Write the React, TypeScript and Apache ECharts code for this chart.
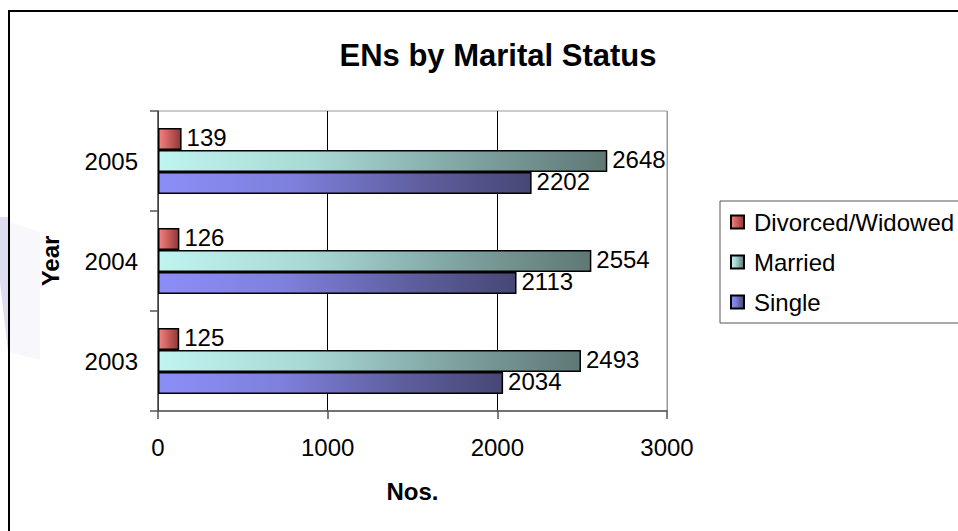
import React, { useEffect, useRef } from "react";
import * as echarts from "echarts";

const years = ["2003", "2004", "2005"];
const single = [2034, 2113, 2202];
const married = [2493, 2554, 2648];
const divorced = [125, 126, 139];
const legendOrder = ["Divorced/Widowed", "Married", "Single"];

const FONT = "'Liberation Sans', Arial, sans-serif";

function grad(stops: [number, string][]) {
  return new echarts.graphic.LinearGradient(
    0,
    0,
    1,
    0,
    stops.map(([offset, color]) => ({ offset, color }))
  );
}

export default function App() {
  const ref = useRef<HTMLDivElement>(null);
  useEffect(() => {
    if (!ref.current) return;
    const chart = echarts.init(ref.current, null, { renderer: "svg" });
    const label = {
      show: true,
      position: "right" as const,
      distance: 5,
      offset: [0, -2],
      color: "#000",
      fontSize: 24,
      fontFamily: FONT,
    };
    const mkSeries = (name: string, data: number[], color: any) => ({
      name,
      type: "bar",
      data,
      barGap: "0%",
      barCategoryGap: "34%",
      itemStyle: { color, borderColor: "#000", borderWidth: 1.5 },
      label,
    });
    chart.setOption({
      animation: false,
      backgroundColor: "#fff",
      textStyle: { fontFamily: FONT },
      title: {
        text: "ENs by Marital Status",
        left: 493,
        top: 35,
        textAlign: "center",
        textStyle: { fontSize: 31, fontWeight: "bold", color: "#000", fontFamily: FONT },
      },
      graphic: [
        {
          type: "polygon",
          silent: true,
          z: -10,
          shape: { points: [[0, 217], [8, 217], [8, 352], [0, 282]] },
          style: { fill: "#dedcf1" },
        },
        {
          type: "polygon",
          silent: true,
          z: -10,
          shape: { points: [[9, 222], [40, 232], [40, 360], [9, 352]] },
          style: { fill: "#f8f7fc" },
        },
        {
          type: "rect",
          silent: true,
          z: 100,
          shape: { x: 9, y: 11, width: 1200, height: 800 },
          style: { fill: "none", stroke: "#000", lineWidth: 2 },
        },
      ],
      legend: {
        orient: "vertical",
        left: 720,
        top: 201,
        data: legendOrder,
        icon: "rect",
        itemWidth: 13,
        itemHeight: 13,
        itemGap: 16,
        padding: [9, 60, 9, 10],
        borderColor: "#555",
        borderWidth: 1,
        textStyle: { fontSize: 24, color: "#000", fontFamily: FONT, padding: [0, 0, 0, 5] },
      },
      grid: {
        left: 158,
        top: 111,
        width: 509,
        height: 300,
        show: true,
        borderColor: "#999",
        borderWidth: 1,
        containLabel: false,
      },
      xAxis: {
        type: "value",
        min: 0,
        max: 3000,
        interval: 1000,
        name: "Nos.",
        nameLocation: "middle",
        nameGap: 68,
        nameTextStyle: { fontSize: 24, fontWeight: "bold", color: "#000", fontFamily: FONT },
        axisLine: { show: true, lineStyle: { color: "#555", width: 1.5 } },
        axisTick: { show: true, length: 8, lineStyle: { color: "#555", width: 1.5 } },
        axisLabel: {
          fontSize: 24,
          color: "#000",
          margin: 24,
          fontFamily: FONT,
          formatter: (v: number) => String(v),
        },
        splitLine: {
          show: true,
          lineStyle: { color: ["#000", "#000", "#000", "#999"], width: 1 },
        },
      },
      yAxis: {
        type: "category",
        data: years,
        name: "Year",
        nameLocation: "middle",
        nameGap: 96,
        nameRotate: 90,
        nameTextStyle: { fontSize: 24, fontWeight: "bold", color: "#000", fontFamily: FONT },
        axisLine: { show: true, lineStyle: { color: "#555", width: 1.5 } },
        axisTick: { show: true, length: 8, lineStyle: { color: "#555", width: 1.5 } },
        axisLabel: { fontSize: 24, color: "#000", margin: 20, fontFamily: FONT },
        splitLine: { show: false },
      },
      series: [
        mkSeries(
          "Divorced/Widowed",
          divorced,
          grad([
            [0, "#f48484"],
            [0.5, "#c85a5a"],
            [1, "#8c3838"],
          ])
        ),
        mkSeries(
          "Married",
          married,
          grad([
            [0, "#c0f4f0"],
            [0.35, "#a8d8d4"],
            [0.7, "#7ea2a0"],
            [1, "#5f7876"],
          ])
        ),
        mkSeries(
          "Single",
          single,
          grad([
            [0, "#8c8ef8"],
            [0.35, "#7e80dc"],
            [0.7, "#5f5fa0"],
            [1, "#474776"],
          ])
        ),
      ],
    });
    return () => chart.dispose();
  }, []);
  return (
    <div
      ref={ref}
      style={{ position: "fixed", left: 0, top: 0, width: 958, height: 531 }}
    />
  );
}
